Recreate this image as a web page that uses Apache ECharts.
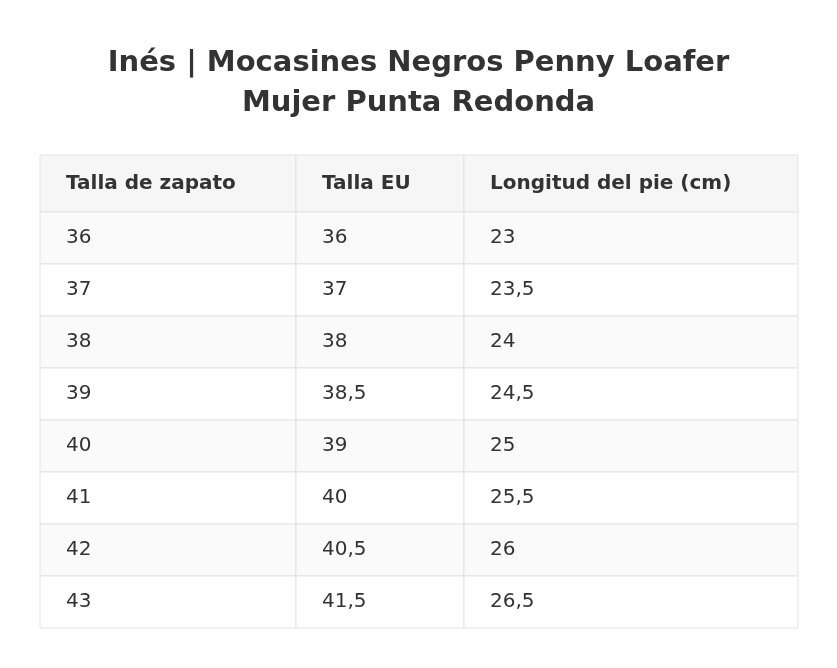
<!DOCTYPE html>
<html lang="es">
<head>
<meta charset="UTF-8">
<title>Tabla de tallas</title>
<script src="https://cdn.jsdelivr.net/npm/echarts@6/dist/echarts.min.js"></script>
<style>html,body{margin:0;background:#fff}</style>
</head>
<body>
<div id="main" style="width:837px;height:668px;"></div>
<script>
let headers = ['Talla de zapato', 'Talla EU', 'Longitud del pie (cm)']
let tallaZapato = ['36', '37', '38', '39', '40', '41', '42', '43']
let tallaEU = ['36', '37', '38', '38,5', '39', '40', '40,5', '41,5']
let longitudPie = ['23', '23,5', '24', '24,5', '25', '25,5', '26', '26,5']

var chart = echarts.init(document.getElementById('main'));
var font = '"DejaVu Sans", Verdana, sans-serif';
var colX = [40, 296, 464, 798];
var top0 = 155, headH = 57, rowH = 52, pad = 26;
var els = [];

function cell(x0, x1, y, h, text, bold, bg) {
    els.push({ type: 'rect', shape: { x: x0, y: y, width: x1 - x0, height: h },
        style: { fill: bg, stroke: '#e3e3e3', lineWidth: 1 } });
    els.push({ type: 'text', x: x0 + pad, y: y + h / 2,
        style: { text: text, fill: '#333', font: (bold ? 'bold ' : '') + '20px ' + font, verticalAlign: 'middle' } });
}

headers.forEach((h, c) => cell(colX[c], colX[c + 1], top0, headH, h, true, '#f6f6f6'));
var cols = [tallaZapato, tallaEU, longitudPie];
tallaZapato.forEach((_, r) => {
    var y = top0 + headH + r * rowH;
    var bg = r % 2 === 0 ? '#fafafa' : '#ffffff';
    cols.forEach((col, c) => cell(colX[c], colX[c + 1], y, rowH, col[r], false, bg));
});

chart.setOption({
    title: {
        text: 'Inés | Mocasines Negros Penny Loafer\nMujer Punta Redonda',
        left: 'center', top: 38,
        textStyle: { fontFamily: font, fontSize: 29, fontWeight: 'bold', color: '#333', lineHeight: 40 }
    },
    graphic: els
});
</script>
</body>
</html>
